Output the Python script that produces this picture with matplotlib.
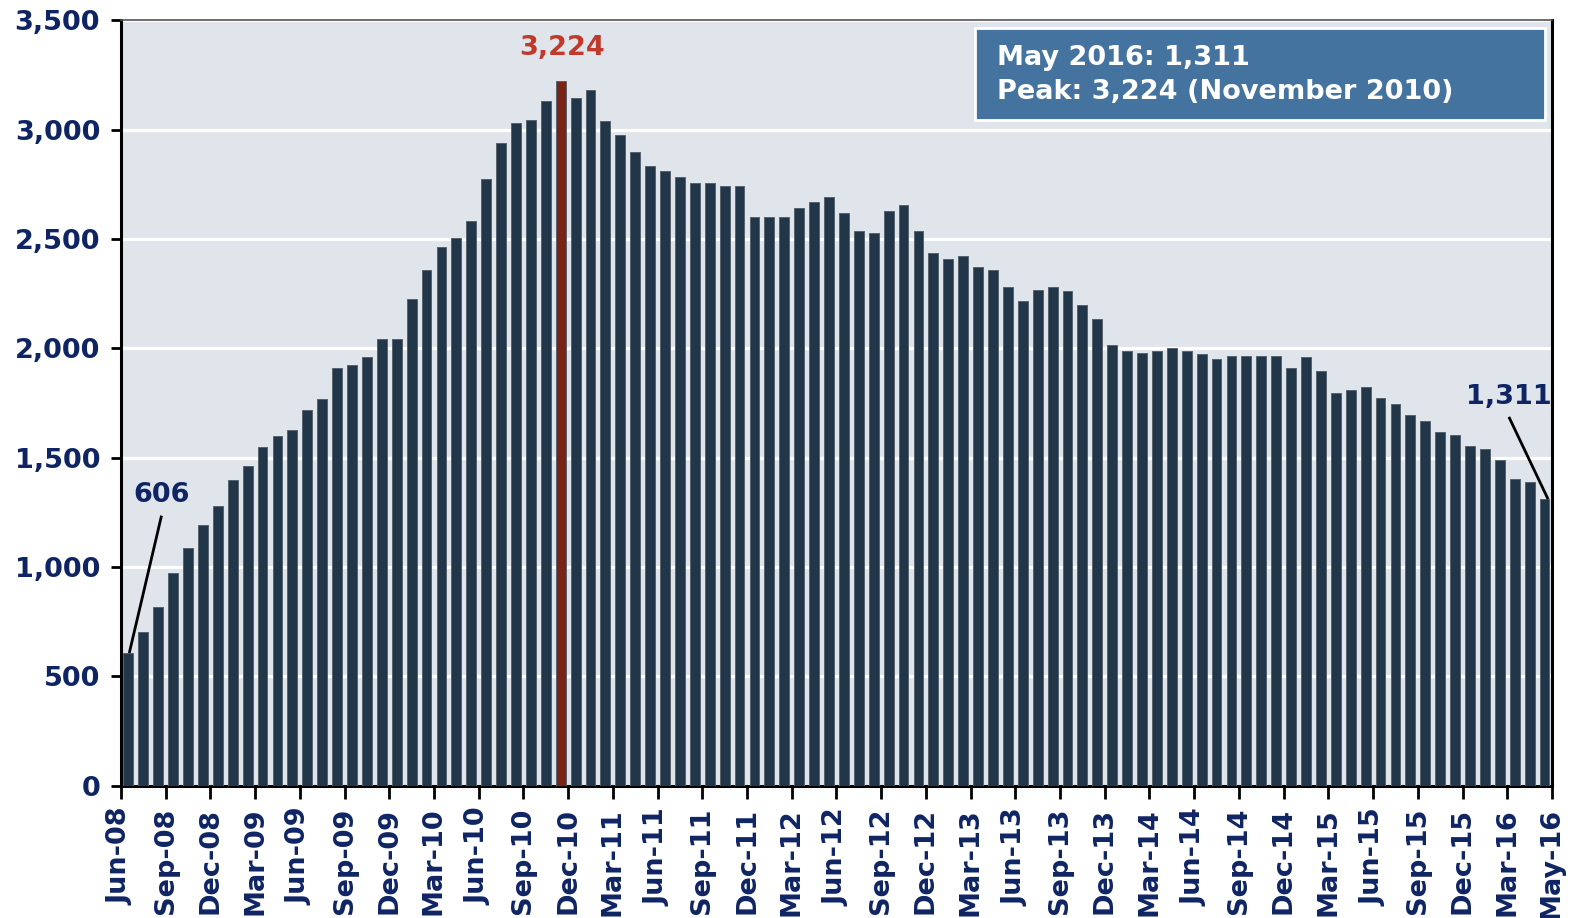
import numpy as np
import pandas as pd
import matplotlib
matplotlib.use("Agg")
import matplotlib.pyplot as plt
from matplotlib.patches import Rectangle
from matplotlib.ticker import FuncFormatter, MultipleLocator

# ── data ────────────────────────────────────────────────────────────────
months = pd.period_range("2008-06", "2016-05", freq="M")
values = [
    606, 700, 815, 970, 1085, 1190, 1280, 1395, 1460, 1550, 1600, 1628,
    1718, 1766, 1910, 1923, 1960, 2042, 2042, 2225, 2358, 2464, 2503, 2581,
    2774, 2939, 3030, 3042, 3131, 3224, 3143, 3180, 3041, 2977, 2897, 2835,
    2809, 2782, 2757, 2757, 2743, 2743, 2600, 2600, 2600, 2641, 2669, 2692,
    2617, 2538, 2525, 2629, 2657, 2538, 2436, 2410, 2422, 2370, 2358, 2279,
    2215, 2268, 2279, 2263, 2196, 2132, 2016, 1989, 1977, 1989, 2003, 1989,
    1975, 1950, 1963, 1963, 1963, 1963, 1911, 1962, 1898, 1797, 1810, 1822,
    1771, 1745, 1694, 1668, 1617, 1604, 1552, 1540, 1489, 1400, 1386, 1311,
]
tick_months = [m.strftime("%b-%y") for m in months[::3]] + ["May-16"]
first_label = "606"
peak_label = "3,224"
last_label = "1,311"
box_lines = ["May 2016: 1,311", "Peak: 3,224 (November 2010)"]

NAVY = "#0f2463"
RED = "#c0392b"
BAR = "#22364a"
PEAK = "#7a2418"
BG = "#dfe5eb"
BOX = "#45739f"

plt.rcParams["font.family"] = ["DejaVu Sans"]
plt.rcParams["font.weight"] = "bold"

fig = plt.figure(figsize=(15.83, 9.18), dpi=100)
ax = fig.add_axes([0.0764, 0.1443, 0.904, 0.8337])
ax.set_facecolor(BG)

x = np.arange(len(values))
peak_i = int(np.argmax(values))
colors = [PEAK if i == peak_i else BAR for i in x]
ax.bar(x, values, width=0.66, color=colors, edgecolor="#56636f",
       linewidth=0.7, zorder=3)

ax.set_xlim(-0.5, len(values) - 0.5)
ax.set_ylim(0, 3500)
ax.yaxis.set_major_locator(MultipleLocator(500))
ax.yaxis.set_major_formatter(FuncFormatter(lambda v, p: f"{int(v):,}"))
ax.grid(axis="y", color="white", linewidth=2.3, zorder=1)
ax.set_axisbelow(True)

tick_pos = list(np.arange(0, len(values), 3) - 0.5) + [len(values) - 0.5]
ax.set_xticks(tick_pos)
ax.set_xticklabels(tick_months, rotation=90, fontsize=19.5, fontweight="bold",
                   color=NAVY)
ax.tick_params(axis="x", length=9, width=2, direction="out", pad=7)
ax.tick_params(axis="y", length=7, width=2, direction="out", labelsize=19.5,
               labelcolor=NAVY, pad=8)
for lab in ax.get_yticklabels():
    lab.set_fontweight("bold")

for side in ["left", "bottom", "right"]:
    ax.spines[side].set_color("black")
    ax.spines[side].set_linewidth(2.2)
ax.spines["top"].set_color("#555555")
ax.spines["top"].set_linewidth(1.2)

# annotations
ax.text(2.2, 1330, first_label, color=NAVY, fontsize=19.5, fontweight="bold",
        ha="center", va="center", zorder=5)
ax.plot([2.2, 0.08], [1228, 612], color="black", lw=2, zorder=5)

ax.text(29.1, 3371, peak_label, color=RED, fontsize=19.5, fontweight="bold",
        ha="center", va="center", zorder=5)

ax.text(92.6, 1779, last_label, color=NAVY, fontsize=19.5, fontweight="bold",
        ha="center", va="center", zorder=5)
ax.plot([92.65, 95.2], [1680, 1315], color="black", lw=2, zorder=5,
        clip_on=False)

# info box
ax.add_patch(Rectangle((0.597, 0.870), 0.398, 0.120, transform=ax.transAxes,
                       facecolor=BOX, edgecolor="white", linewidth=2,
                       zorder=6))
ax.text(0.6125, 0.951, box_lines[0], transform=ax.transAxes, color="white",
        fontsize=19.5, fontweight="bold", ha="left", va="center", zorder=7)
ax.text(0.6125, 0.906, box_lines[1], transform=ax.transAxes, color="white",
        fontsize=19.5, fontweight="bold", ha="left", va="center", zorder=7)

fig.savefig("out.png", dpi=100)
